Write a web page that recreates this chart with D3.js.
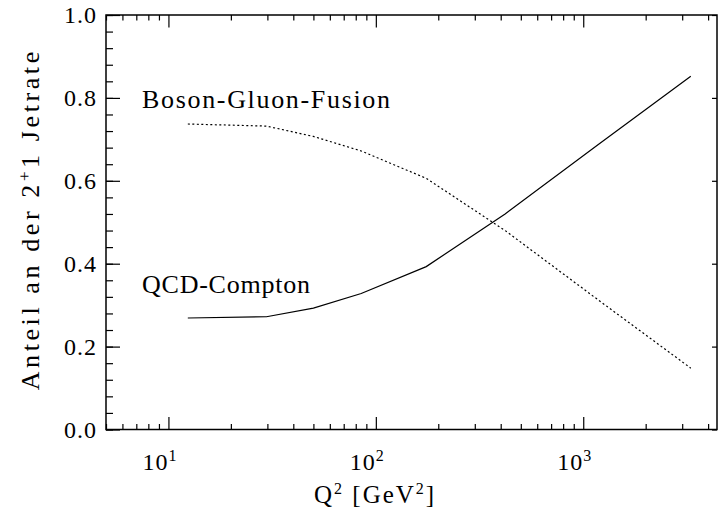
<!DOCTYPE html>
<html>
<head>
<meta charset="utf-8">
<script src="https://cdn.jsdelivr.net/npm/d3@7"></script>
<style>
  html, body { margin: 0; padding: 0; background: #fff; }
  svg text { font-family: "Liberation Serif", "Times New Roman", serif; fill: #000; }
</style>
</head>
<body>
<svg id="chart" width="720" height="515"></svg>
<script>
// ---- data ----
const q2 = [12.4, 29.7, 50, 85, 175, 420, 1200, 3300];
const compton = [0.269, 0.272, 0.293, 0.328, 0.393, 0.52, 0.69, 0.852];
const bgf = [0.737, 0.732, 0.707, 0.672, 0.606, 0.48, 0.31, 0.148];
const xMajor = [10, 100, 1000];
const xMajorLabels = ["1", "2", "3"];
const xMinor = [5, 6, 7, 8, 9, 20, 30, 40, 50, 60, 70, 80, 90, 200, 300, 400, 500, 600, 700, 800, 900, 2000, 3000, 4000];
const yMajor = [0, 0.2, 0.4, 0.6, 0.8, 1.0];
const yMinor = d3.range(0, 1.0001, 0.04).map(v => +v.toFixed(2));
const seriesLabels = ["Boson-Gluon-Fusion", "QCD-Compton"];

// ---- layout ----
const L = 106, R = 717, T = 15, B = 429.5;
const svg = d3.select("#chart");
const x = d3.scaleLog().domain([5, 4415]).range([L, R]);
const y = d3.scaleLinear().domain([0, 1]).range([B, T]);

const g = svg.append("g");

function styleAxis(sel) {
  sel.select(".domain").remove();
  sel.selectAll(".tick line").attr("stroke", "#000").attr("stroke-width", 1.2);
  sel.selectAll(".tick text").remove();
}

// bottom ticks (inward)
g.append("g").attr("transform", `translate(0,${B})`)
  .call(d3.axisBottom(x).tickValues(xMajor).tickSize(-12.6).tickFormat(""))
  .call(styleAxis);
g.append("g").attr("transform", `translate(0,${B})`)
  .call(d3.axisBottom(x).tickValues(xMinor).tickSize(-5.5).tickFormat(""))
  .call(styleAxis);
// top ticks (inward)
g.append("g").attr("transform", `translate(0,${T})`)
  .call(d3.axisTop(x).tickValues(xMajor).tickSize(-12.6).tickFormat(""))
  .call(styleAxis);
g.append("g").attr("transform", `translate(0,${T})`)
  .call(d3.axisTop(x).tickValues(xMinor).tickSize(-5.5).tickFormat(""))
  .call(styleAxis);
// left ticks (inward)
g.append("g").attr("transform", `translate(${L},0)`)
  .call(d3.axisLeft(y).tickValues(yMajor).tickSize(-14).tickFormat(""))
  .call(styleAxis);
g.append("g").attr("transform", `translate(${L},0)`)
  .call(d3.axisLeft(y).tickValues(yMinor).tickSize(-7).tickFormat(""))
  .call(styleAxis);
// right ticks (major only, inward)
g.append("g").attr("transform", `translate(${R},0)`)
  .call(d3.axisRight(y).tickValues(yMajor).tickSize(-5).tickFormat(""))
  .call(styleAxis);

// frame
g.append("rect").attr("x", L).attr("y", T).attr("width", R - L).attr("height", B - T)
  .attr("fill", "none").attr("stroke", "#000").attr("stroke-width", 1.5);

// y tick labels
g.selectAll(".ylab").data(yMajor).enter().append("text")
  .attr("x", 97).attr("y", d => y(d)).attr("dy", "0.35em")
  .attr("text-anchor", "end").attr("font-size", 24).attr("letter-spacing", 1)
  .text(d => d.toFixed(1));

// x tick labels: 10^n
const xl = g.selectAll(".xlab").data(xMajor).enter().append("text")
  .attr("x", d => x(d) - 26).attr("y", 470)
  .attr("font-size", 24).attr("letter-spacing", 1);
xl.append("tspan").text("10");
xl.append("tspan").attr("dy", -9).attr("font-size", 16).text((d, i) => xMajorLabels[i]);

// axis titles
const xt = g.append("text").attr("x", 314).attr("y", 503).attr("font-size", 25).attr("letter-spacing", 2);
xt.append("tspan").text("Q");
xt.append("tspan").attr("dy", -9).attr("font-size", 16).text("2");
xt.append("tspan").attr("dy", 9).text("  [GeV");
xt.append("tspan").attr("dy", -9).attr("font-size", 16).text("2");
xt.append("tspan").attr("dy", 9).text("]");

const yt = g.append("text").attr("transform", `translate(39,${(T + B) / 2 - 3}) rotate(-90)`)
  .attr("text-anchor", "middle").attr("font-size", 26).attr("letter-spacing", 3.6);
yt.append("tspan").text("Anteil an der 2");
yt.append("tspan").attr("dy", -9).attr("font-size", 17).text("+");
yt.append("tspan").attr("dy", 9).text("1 Jetrate");

// lines
const line = d3.line().x(d => x(d[0])).y(d => y(d[1]));
g.append("path").datum(q2.map((q, i) => [q, compton[i]]))
  .attr("d", line).attr("fill", "none").attr("stroke", "#000").attr("stroke-width", 1.2);
g.append("path").datum(q2.map((q, i) => [q, bgf[i]]))
  .attr("d", line).attr("fill", "none").attr("stroke", "#000").attr("stroke-width", 1.2)
  .attr("stroke-dasharray", "2,2.5");

// series labels
g.append("text").attr("x", 142).attr("y", 108).attr("font-size", 26)
  .attr("textLength", 248).attr("lengthAdjust", "spacing").text(seriesLabels[0]);
g.append("text").attr("x", 142).attr("y", 293).attr("font-size", 26)
  .attr("textLength", 168).attr("lengthAdjust", "spacing").text(seriesLabels[1]);
</script>
</body>
</html>
